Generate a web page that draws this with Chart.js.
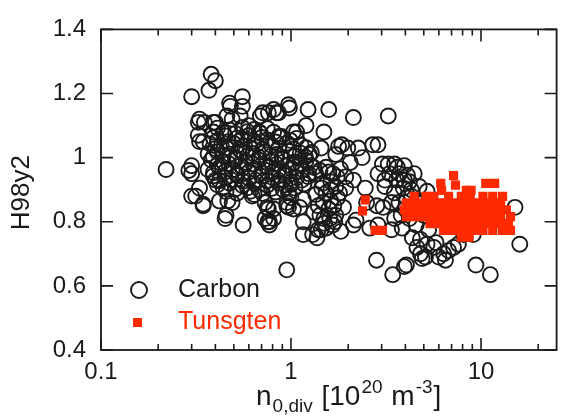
<!DOCTYPE html>
<html>
<head>
<meta charset="utf-8">
<script src="https://cdn.jsdelivr.net/npm/chart.js@4.4.1/dist/chart.umd.min.js"></script>
<style>
  html, body { margin: 0; padding: 0; background: #fff; }
  #chart { display: block; }
</style>
</head>
<body>
<canvas id="chart" width="566" height="419"></canvas>
<script>
// n_0,div [1e20 m^-3] vs H98y2
const carbonPoints = [
  [0.22, 0.963], [0.30, 0.975], [0.29, 0.96], [0.30, 0.95], [0.30, 0.88], [0.315, 0.88],
  [0.345, 0.85], [0.45, 0.81], [0.56, 0.79], [0.38, 1.26], [0.40, 1.24], [0.37, 1.21],
  [0.30, 1.19], [0.555, 1.19], [0.48, 1.16], [0.325, 1.11], [0.35, 1.11], [0.39, 1.11],
  [0.46, 1.13], [0.54, 1.13], [0.325, 1.07], [0.33, 1.05], [0.69, 1.13], [0.76, 1.14],
  [0.86, 1.14], [0.98, 1.155], [0.81, 1.15], [1.23, 1.15], [1.58, 1.15], [2.13, 1.125],
  [3.25, 1.13], [0.86, 1.065], [1.07, 1.08], [1.20, 1.10], [1.49, 1.08], [1.85, 1.04],
  [1.99, 1.03], [2.69, 1.04], [2.87, 1.04], [2.37, 1.0], [3.25, 0.98], [3.51, 0.98],
  [3.95, 0.975], [2.87, 0.95], [3.12, 0.93], [3.95, 0.93], [4.3, 0.90], [1.53, 0.97],
  [1.66, 0.95], [1.94, 0.94], [2.13, 0.93], [1.47, 0.92], [1.72, 0.91], [1.53, 0.89],
  [1.76, 0.875], [1.39, 0.85], [1.58, 0.84], [1.49, 0.81], [1.39, 0.775], [1.66, 0.79],
  [1.30, 0.76], [0.95, 0.85], [1.16, 0.87], [1.16, 0.80], [0.77, 0.80], [0.81, 0.84],
  [2.13, 0.79], [3.05, 0.845], [2.87, 0.79], [3.38, 0.775], [2.82, 0.68], [3.43, 0.635],
  [4.05, 0.665], [4.8, 0.70], [5.1, 0.69], [6.36, 0.70], [6.75, 0.71], [7.17, 0.72],
  [7.6, 0.73], [6.5, 0.68], [9.4, 0.665], [11.2, 0.635], [16.0, 0.73], [15.1, 0.845],
  [0.95, 0.65], [4.45, 0.95], [4.73, 0.91], [3.38, 0.86], [3.51, 0.81], [3.85, 0.78],
  [4.56, 0.79], [4.8, 0.745], [4.6, 0.72], [4.9, 0.685], [3.95, 0.66], [9.1, 0.76],
  [8.1, 0.76], [5.65, 0.72], [6.0, 0.69],
  [0.40, 0.93], [0.42, 0.865], [0.465, 0.865], [0.49, 0.86], [0.455, 0.82], [0.625, 0.88],
  [0.73, 0.81], [0.77, 0.79], [0.76, 0.84], [0.73, 0.86], [0.95, 0.86], [1.03, 0.84],
  [0.93, 0.915], [0.345, 0.855], [0.64, 0.885], [0.75, 0.845], [0.81, 0.81], [0.97, 0.845],
  [1.0, 0.875], [0.33, 0.905], [0.475, 1.17], [0.555, 1.16], [0.71, 1.14], [0.84, 1.14],
  [0.97, 1.165], [0.33, 1.12], [0.40, 1.11], [0.39, 1.08], [0.345, 1.05], [0.60, 1.10],
  [0.68, 1.08], [0.49, 1.12], [0.87, 1.065], [1.03, 1.08],
  [0.41, 1.092], [0.475, 1.086], [0.555, 1.094], [0.64, 1.088], [0.75, 1.091],
  [0.39, 1.062], [0.45, 1.068], [0.52, 1.061], [0.60, 1.069], [0.70, 1.063], [0.89, 1.066], [1.07, 1.06],
  [0.375, 1.043], [0.43, 1.037], [0.50, 1.044], [0.57, 1.036], [0.66, 1.042], [0.79, 1.038], [0.95, 1.045], [1.13, 1.039],
  [0.366, 1.012], [0.41, 1.018], [0.475, 1.011], [0.55, 1.019], [0.63, 1.013], [0.73, 1.017], [0.84, 1.01],
  [0.97, 1.02], [1.12, 1.014], [1.28, 1.016],
  [0.38, 0.993], [0.44, 0.987], [0.51, 0.994], [0.58, 0.985], [0.68, 0.992], [0.785, 0.988], [0.90, 0.995],
  [1.04, 0.986], [1.20, 0.991],
  [0.366, 0.963], [0.42, 0.969], [0.49, 0.962], [0.56, 0.968], [0.645, 0.964], [0.75, 0.97], [0.86, 0.961],
  [1.0, 0.967], [1.15, 0.963], [1.32, 0.969],
  [0.39, 0.943], [0.45, 0.937], [0.52, 0.944], [0.60, 0.936], [0.70, 0.942], [0.80, 0.938], [0.925, 0.945],
  [1.07, 0.937], [1.23, 0.941],
  [0.41, 0.915], [0.475, 0.92], [0.555, 0.913], [0.64, 0.919], [0.75, 0.914], [0.86, 0.921], [1.0, 0.916], [1.17, 0.918],
  [0.455, 0.894], [0.52, 0.889], [0.61, 0.895], [0.71, 0.888], [0.83, 0.893], [0.97, 0.89],
  [0.44, 1.078], [0.51, 1.075], [0.59, 1.081], [0.69, 1.076], [0.81, 1.079],
  [0.41, 1.053], [0.47, 1.05], [0.55, 1.056], [0.64, 1.051], [0.75, 1.055], [0.83, 1.049], [0.99, 1.054],
  [0.40, 1.028], [0.46, 1.031], [0.535, 1.025], [0.61, 1.03], [0.71, 1.026], [0.86, 1.029], [1.03, 1.027], [1.2, 1.031],
  [0.39, 1.003], [0.44, 1.006], [0.51, 1.0], [0.59, 1.005], [0.68, 1.001], [0.78, 1.004], [0.90, 1.0],
  [1.05, 1.005], [1.19, 1.002],
  [0.41, 0.978], [0.47, 0.981], [0.545, 0.975], [0.63, 0.98], [0.73, 0.976], [0.84, 0.979], [0.97, 0.977],
  [1.12, 0.98], [1.27, 0.976],
  [0.39, 0.953], [0.45, 0.956], [0.52, 0.95], [0.60, 0.955], [0.70, 0.951], [0.80, 0.954], [0.93, 0.952],
  [1.07, 0.955], [1.24, 0.95],
  [0.42, 0.928], [0.485, 0.931], [0.56, 0.926], [0.65, 0.93], [0.75, 0.927], [0.86, 0.929], [1.0, 0.925], [1.14, 0.93],
  [0.44, 0.905], [0.51, 0.902], [0.59, 0.906], [0.68, 0.901], [0.79, 0.904], [0.91, 0.9], [1.05, 0.905],
  [1.82, 0.965], [1.35, 0.95], [1.62, 0.925], [1.94, 0.905], [1.35, 0.885], [1.62, 0.865],
  [1.89, 0.845], [1.32, 0.83], [1.72, 0.82], [1.53, 0.78], [1.83, 0.77], [1.25, 1.01],
  [1.44, 1.03], [1.72, 1.01], [2.05, 0.985], [2.46, 0.905], [2.5, 0.86],
  [1.42, 0.96], [1.58, 0.955], [1.75, 0.94], [1.45, 0.905], [1.62, 0.9], [1.8, 0.89],
  [1.48, 0.86], [1.68, 0.85], [1.42, 0.82], [1.6, 0.81], [1.5, 0.795], [1.7, 0.8],
  [3.72, 0.95], [4.2, 0.925], [3.5, 0.89], [4.05, 0.875], [4.45, 0.845], [5.0, 0.82],
  [4.2, 0.81], [5.3, 0.775], [4.35, 0.75], [5.2, 0.73], [5.8, 0.735],
  [3.3, 0.95], [3.6, 0.93], [3.9, 0.905], [4.3, 0.88], [3.7, 0.86], [4.0, 0.84], [3.8, 0.82], [4.6, 0.86],
  [1.78, 1.035], [2.26, 1.03], [3.03, 0.98], [3.63, 0.97], [4.1, 0.945], [5.2, 0.895],
  [3.12, 0.91], [2.83, 0.85], [2.6, 0.78], [0.755, 0.80], [1.11, 0.845], [1.16, 0.76],
  [1.37, 0.75], [1.44, 0.775], [2.2, 0.805]
];

const tungstenPoints = [
  [7.17, 0.944],
  [6.14, 0.92], [7.34, 0.914], [10.6, 0.92], [11.8, 0.92],
  [6.2, 0.898], [8.37, 0.898], [8.87, 0.898],
  [4.45, 0.879], [5.14, 0.879], [5.65, 0.879], [6.75, 0.879], [7.88, 0.879], [8.77, 0.879],
  [10.24, 0.879], [11.53, 0.879], [12.99, 0.879],
  [4.05, 0.859], [4.45, 0.859], [4.9, 0.859], [5.39, 0.859], [5.93, 0.859], [6.52, 0.859],
  [7.17, 0.859], [7.88, 0.859], [8.67, 0.859], [9.53, 0.859], [10.48, 0.859], [11.53, 0.859], [12.68, 0.859],
  [3.95, 0.837], [4.35, 0.837], [4.78, 0.837], [5.26, 0.837], [5.79, 0.837], [6.36, 0.837], [7.0, 0.837],
  [7.7, 0.837], [8.47, 0.837], [9.31, 0.837], [10.24, 0.837], [11.26, 0.837], [12.39, 0.837], [13.6, 0.837],
  [4.05, 0.816], [4.45, 0.816], [4.9, 0.816], [5.39, 0.816], [5.93, 0.816], [6.52, 0.816], [7.17, 0.816],
  [7.88, 0.816], [8.67, 0.816], [9.53, 0.816], [10.48, 0.816], [11.53, 0.816], [12.68, 0.816], [14.3, 0.816],
  [5.39, 0.794], [5.93, 0.794], [6.52, 0.794], [7.17, 0.794], [7.88, 0.794], [8.67, 0.794],
  [9.53, 0.794], [10.48, 0.794], [11.53, 0.794], [12.68, 0.794], [13.95, 0.794],
  [6.36, 0.773], [7.0, 0.773], [7.7, 0.773], [8.47, 0.773], [9.31, 0.773], [10.24, 0.773],
  [11.53, 0.773], [12.99, 0.773], [14.3, 0.773],
  [7.88, 0.752], [8.67, 0.752],
  [2.46, 0.868], [2.38, 0.834], [2.77, 0.773], [3.03, 0.773]
];

const yTicks = [0.4, 0.6, 0.8, 1, 1.2, 1.4];
const xMajorTicks = [0.1, 1, 10];
const xMinorTicks = [0.2, 0.3, 0.4, 0.5, 0.6, 0.7, 0.8, 0.9, 2, 3, 4, 5, 6, 7, 8, 9, 20];

const FONT = "'Liberation Sans', Arial, Helvetica, sans-serif";
const INK = "#1a1a1a";
const RED = "#ff2a00";

Chart.defaults.font.family = FONT;
Chart.defaults.color = INK;

// box round the plot with inward ticks on all four sides
const frameTicks = {
  id: "frameTicks",
  afterDatasetsDraw(chart) {
    const { ctx, chartArea: area, scales } = chart;
    const { x, y } = scales;
    ctx.save();
    ctx.strokeStyle = INK;
    ctx.lineWidth = 1.8;
    ctx.strokeRect(area.left, area.top, area.right - area.left, area.bottom - area.top);
    ctx.lineWidth = 1.6;
    ctx.beginPath();
    const xMark = (value, len) => {
      const px = x.getPixelForValue(value);
      ctx.moveTo(px, area.bottom);
      ctx.lineTo(px, area.bottom - len);
      ctx.moveTo(px, area.top);
      ctx.lineTo(px, area.top + len);
    };
    xMajorTicks.forEach((v) => xMark(v, 12));
    xMinorTicks.forEach((v) => xMark(v, 6));
    yTicks.forEach((v) => {
      const py = y.getPixelForValue(v);
      ctx.moveTo(area.left, py);
      ctx.lineTo(area.left + 12, py);
      ctx.moveTo(area.right, py);
      ctx.lineTo(area.right - 12, py);
    });
    ctx.stroke();
    ctx.restore();
  },
};

// axis titles with sub/superscripts and the in-plot legend
const labels = {
  id: "labels",
  afterDraw(chart) {
    const { ctx, chartArea: area } = chart;
    const [carbon, tungsten] = chart.data.datasets;
    ctx.save();

    // y title
    ctx.fillStyle = INK;
    ctx.font = `26px ${FONT}`;
    ctx.textAlign = "center";
    ctx.textBaseline = "middle";
    ctx.translate(22, (area.top + area.bottom) / 2 + 3);
    ctx.rotate(-Math.PI / 2);
    ctx.fillText("H98y2", 0, 0);
    ctx.setTransform(1, 0, 0, 1, 0, 0);

    // x title: n_{0,div} [10^{20} m^{-3}]
    const parts = [
      { t: "n", size: 28, dy: 0 },
      { t: "0,div", size: 19, dy: 7 },
      { t: " [10", size: 28, dy: 0 },
      { t: "20", size: 19, dy: -12 },
      { t: " m", size: 28, dy: 0 },
      { t: "-3", size: 19, dy: -12 },
      { t: "]", size: 28, dy: 0 },
    ];
    ctx.textAlign = "left";
    ctx.textBaseline = "alphabetic";
    let cx = 256;
    const base = 405;
    parts.forEach((p) => {
      ctx.font = `${p.size}px ${FONT}`;
      ctx.fillText(p.t, cx, base + p.dy);
      cx += ctx.measureText(p.t).width + 1;
    });

    // legend
    ctx.font = `25px ${FONT}`;
    ctx.textBaseline = "middle";
    ctx.strokeStyle = carbon.borderColor;
    ctx.lineWidth = carbon.borderWidth;
    ctx.beginPath();
    ctx.arc(139, 290, 8, 0, Math.PI * 2);
    ctx.stroke();
    ctx.fillStyle = INK;
    ctx.fillText(carbon.label, 178, 290);

    ctx.fillStyle = tungsten.backgroundColor;
    ctx.fillRect(133, 318, 9, 9);
    ctx.fillText(tungsten.label, 178, 322);
    ctx.restore();
  },
};

new Chart(document.getElementById("chart"), {
  type: "scatter",
  data: {
    datasets: [
      {
        label: "Carbon",
        data: carbonPoints.map(([x, y]) => ({ x, y })),
        pointStyle: "circle",
        pointRadius: 7.5,
        borderColor: INK,
        borderWidth: 1.9,
        backgroundColor: "rgba(0,0,0,0)",
        order: 2,
      },
      {
        label: "Tunsgten",
        data: tungstenPoints.map(([x, y]) => ({ x, y })),
        pointStyle: "rect",
        pointRadius: 6.5,
        borderWidth: 0,
        backgroundColor: RED,
        order: 1,
      },
    ],
  },
  options: {
    responsive: false,
    devicePixelRatio: 1,
    animation: false,
    events: [],
    layout: { padding: { left: 0, right: 1, top: 23, bottom: 0 } },
    plugins: {
      legend: { display: false },
      tooltip: { enabled: false },
    },
    scales: {
      x: {
        type: "logarithmic",
        min: 0.1,
        max: 25,
        grid: { display: false, drawTicks: false },
        border: { display: false },
        afterBuildTicks: (scale) => {
          scale.ticks = xMajorTicks.map((value) => ({ value }));
        },
        afterFit: (scale) => {
          scale.height = 69;
        },
        ticks: {
          autoSkip: false,
          maxRotation: 0,
          padding: 8,
          font: { size: 24 },
          color: INK,
          callback: (value) => String(value),
        },
      },
      y: {
        min: 0.4,
        max: 1.4,
        grid: { display: false, drawTicks: false },
        border: { display: false },
        afterBuildTicks: (scale) => {
          scale.ticks = yTicks.map((value) => ({ value }));
        },
        afterFit: (scale) => {
          scale.width = 101;
        },
        ticks: {
          padding: 15,
          font: { size: 24 },
          color: INK,
          callback: (value) => String(+value.toFixed(1)),
        },
      },
    },
  },
  plugins: [frameTicks, labels],
});
</script>
</body>
</html>
